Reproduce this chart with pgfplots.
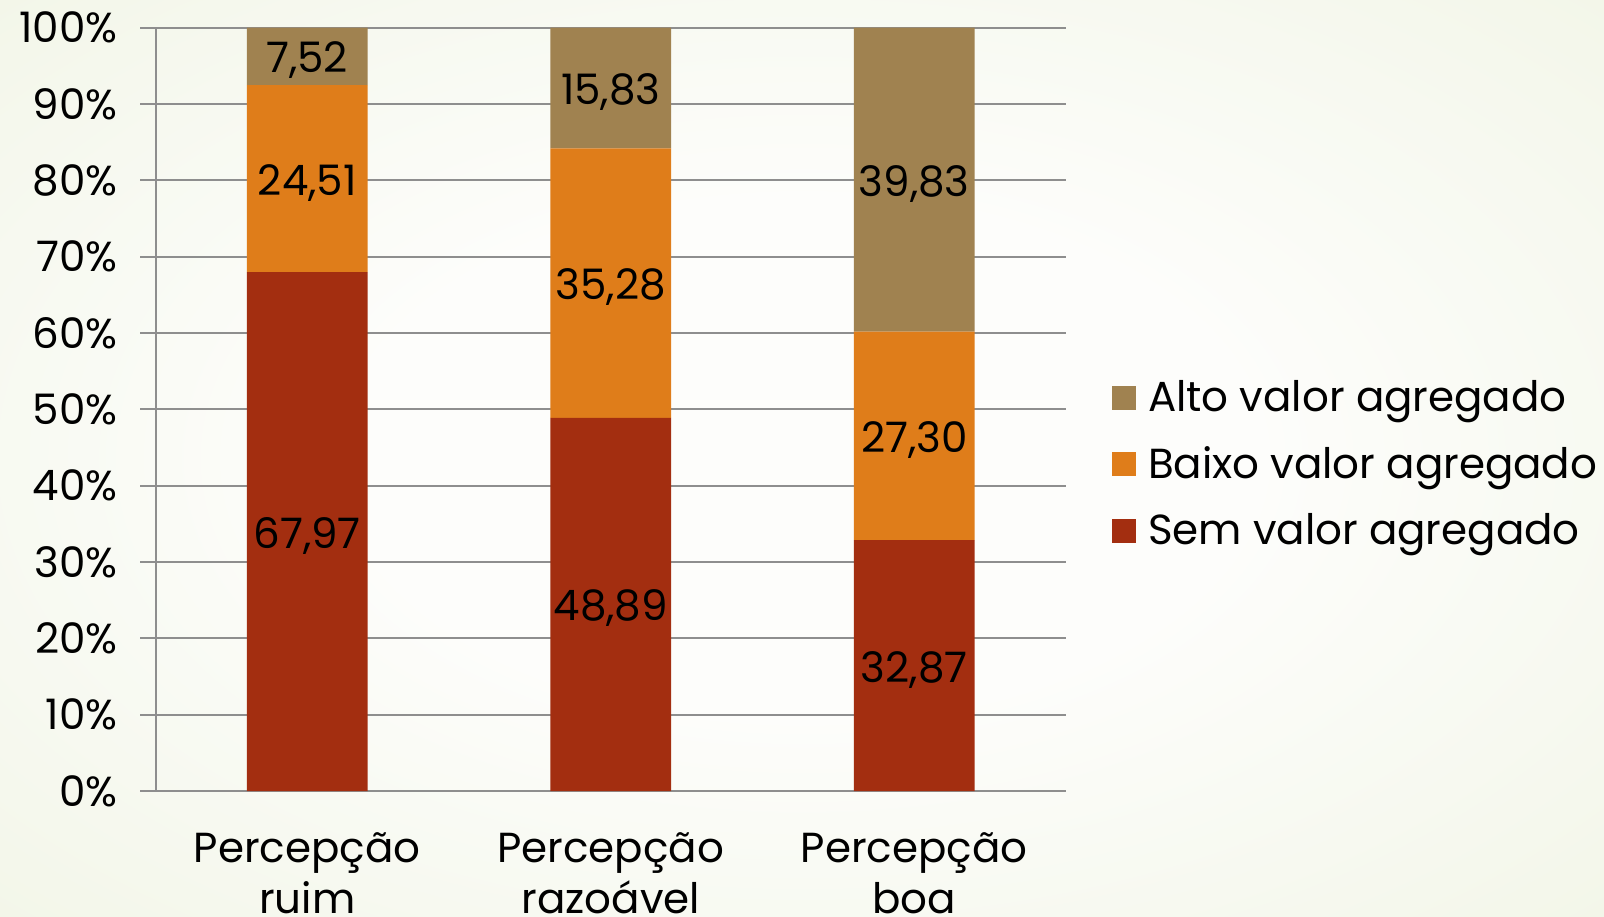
\documentclass[border=0pt]{standalone}
\usepackage{pgfplots}
\pgfplotsset{compat=1.18}
\usepackage{pgfplotstable}
\usepackage{fontspec}
\setmainfont{Poppins}
\definecolor{alto}{RGB}{160,130,80}
\definecolor{baixo}{RGB}{223,125,26}
\definecolor{sem}{RGB}{163,46,16}
\definecolor{gridc}{RGB}{142,142,142}
\definecolor{bgout}{RGB}{226,235,203}
\definecolor{bgin}{RGB}{253,253,251}
\pgfdeclareradialshading{bgshade}{\pgfpoint{0bp}{0bp}}{color(0bp)=(bgin); color(14bp)=(bgin); color(71bp)=(bgout)}

\pgfplotstableread{
x sem baixo alto
0 67.97 24.51 7.52
1 48.89 35.28 15.83
2 32.87 27.30 39.83
}\datatable

\pgfplotstableread{
x mid val
0 33.985 67.97
1 24.445 48.89
2 16.435 32.87
0 80.225 24.51
1 66.53 35.28
2 46.52 27.30
0 96.24 7.52
1 92.085 15.83
2 80.085 39.83
}\labeltable

\newcommand{\bigfont}{\fontsize{21}{25.5}\selectfont}

\begin{document}
\begin{tikzpicture}
\useasboundingbox (0,0) rectangle (802pt,458pt);
\shade[shading=bgshade] (0,0) rectangle (802pt,458pt);
\begin{axis}[
  at={(77.75pt,62.5pt)}, anchor=south west,
  scale only axis, width=455.25pt, height=381.7pt,
  xmin=-0.5, xmax=2.5, ymin=0, ymax=100,
  ybar stacked, bar width=60.4pt,
  axis x line*=bottom, axis y line*=left,
  axis line style={gridc, line width=1pt},
  ymajorgrids, grid style={gridc, line width=1pt},
  ytick={0,10,...,100},
  yticklabel={\pgfmathprintnumber{\tick}\%},
  /pgf/number format/assume math mode=true,
  tick align=outside, major tick length=7.5pt,
  tick style={gridc, line width=1pt},
  xtick={0,1,2},
  xticklabels={{Percepção\\ruim},{Percepção\\razoável},{Percepção\\boa}},
  x tick style={draw=none},
  extra x ticks={-0.5,0.5,1.5,2.5},
  extra x tick labels={},
  extra x tick style={tick style={draw=gridc, line width=1pt}, grid=none},
  ticklabel style={font=\bigfont, text=black},
  yticklabel style={xshift=-8pt},
  xticklabel style={align=center, yshift=-10pt},
  reverse legend,
  legend style={at={(1,0.428)}, anchor=west, xshift=23pt, draw=none, fill=none,
    font=\bigfont, row sep=12pt, inner sep=0pt,
    nodes={inner xsep=6pt}},
  legend cell align=left,
  sq/.style={legend image code/.code={\fill[##1] (0pt,-5.9pt) rectangle (11.8pt,5.9pt);}},
]
\addplot[fill=sem, draw=none, sq] table[x=x, y=sem] {\datatable};
\addplot[fill=baixo, draw=none, sq] table[x=x, y=baixo] {\datatable};
\addplot[fill=alto, draw=none, sq] table[x=x, y=alto] {\datatable};
\legend{Sem valor agregado, Baixo valor agregado, Alto valor agregado}
\end{axis}
\begin{axis}[
  at={(77.75pt,62.5pt)}, anchor=south west,
  scale only axis, width=455.25pt, height=381.7pt,
  xmin=-0.5, xmax=2.5, ymin=0, ymax=100,
  hide axis,
  /pgf/number format/.cd, fixed, fixed zerofill, precision=2, use comma, 1000 sep={}, assume math mode=true,
]
\addplot[only marks, mark=none, point meta=explicit, nodes near coords,
  every node near coord/.append style={anchor=center, yshift=-2pt, font=\bigfont, text=black}]
  table[x=x, y=mid, meta=val] {\labeltable};
\end{axis}
\end{tikzpicture}
\end{document}
